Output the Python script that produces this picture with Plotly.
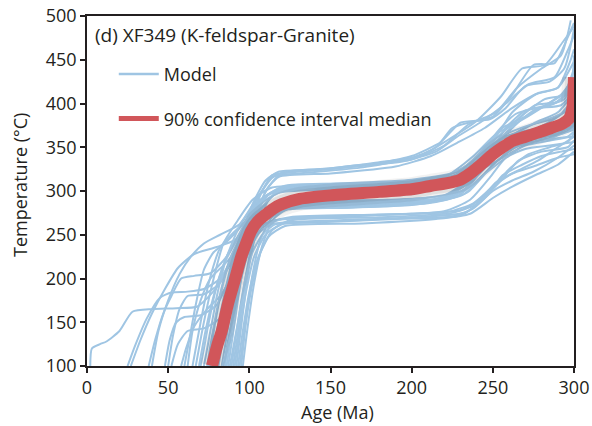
import plotly.graph_objects as go

# ---------------- data ----------------
x_ticks = [0, 50, 100, 150, 200, 250, 300]
y_ticks = [100, 150, 200, 250, 300, 350, 400, 450, 500]

median_age = [77, 80, 83, 87, 91, 95, 98, 101, 105, 110, 115, 120, 131, 150, 180, 200, 212, 222,
              230, 236, 242, 250, 256, 262, 270, 278, 286, 293, 297, 299, 300]
median_temp = [100, 122, 140, 172, 198, 225, 240, 254, 265, 273, 280, 285, 291, 295, 299, 302, 306, 309,
               313, 320, 329, 342, 350, 357, 362, 367, 372, 377, 383, 395, 430]

# upper plateau paths (age, temperature)
path_u1 = [(40,100),(44,140),(50,175),(57,205),(64,225),(72,240),(82,250),(94,262),(104,290),(114,315),(122,322),(150,326),(180,333),(200,338),(215,350),(225,372),(235,378),(250,385),(262,410),(275,444),(288,446),(296,475),(300,492)]
path_u2 = [(27,100),(33,130),(40,160),(48,188),(56,212),(66,228),(80,236),(92,245),(102,270),(112,305),(120,320),(150,325),(180,332),(200,340),(218,356),(230,378),(248,382),(258,395),(270,420),(285,425),(294,440),(300,485)]
path_u3 = [(80,100),(85,150),(90,200),(96,250),(102,285),(110,312),(118,322),(140,324),(170,330),(200,336),(220,352),(235,376),(252,390),(265,418),(280,440),(292,455),(298,495)]
path_u4 = [(84,100),(89,150),(94,200),(100,255),(106,292),(114,318),(125,321),(160,327),(195,334),(215,345),(228,362),(242,378),(258,400),(272,422),(288,430),(296,460),(300,478)]
path_u5 = [(70,100),(74,140),(79,185),(86,225),(95,255),(104,288),(114,316),(130,320),(170,327),(205,340),(222,358),(240,380),(255,408),(268,440),(282,444),(293,470),(300,488)]
path_u6 = [(88,100),(93,150),(98,205),(104,262),(110,300),(118,316),(150,320),(190,328),(212,340),(228,355),(245,372),(262,395),(278,412),(290,418),(298,450),(300,462)]

# middle plateau paths
path_m1 = [(2,100),(3,120),(8,125),(12,128),(20,140),(28,162),(40,165),(55,166),(68,168),(80,190),(92,230),(102,268),(112,296),(125,305),(160,308),(200,312),(222,318),(238,340),(252,365),(265,378),(280,395),(292,410),(300,430)]
path_m2 = [(25,100),(30,125),(37,155),(45,178),(52,184),(62,185),(72,188),(82,200),(92,232),(104,265),(115,278),(150,282),(190,286),(220,292),(235,312),(248,342),(262,358),(276,370),(290,385),(300,405)]
path_m3 = [(38,100),(42,130),(47,160),(52,180),(58,200),(66,203),(76,206),(86,225),(96,258),(106,288),(118,302),(160,304),(200,309),(225,316),(240,334),(255,360),(268,368),(280,372),(292,380),(300,395)]
path_m4 = [(48,100),(51,130),(55,150),(60,156),(70,158),(80,170),(90,210),(100,252),(110,274),(122,280),(170,282),(210,287),(232,300),(245,328),(258,350),(272,360),(286,368),(296,378),(300,383)]
path_m5 = [(50,100),(53,135),(57,165),(62,180),(72,182),(82,195),(92,238),(102,276),(112,296),(135,303),(180,306),(215,310),(236,324),(250,348),(262,372),(275,392),(288,400),(300,420)]
path_m6 = [(52,100),(56,125),(62,140),(72,143),(82,155),(90,198),(98,240),(108,268),(120,279),(160,281),(200,284),(228,294),(244,318),(258,338),(272,355),(288,362),(300,372)]
path_m7 = [(60,100),(63,130),(67,170),(72,210),(78,230),(86,242),(96,262),(106,288),(118,302),(150,306),(195,310),(225,316),(240,340),(252,362),(262,390),(276,410),(290,418),(300,448)]
path_m8 = [(65,100),(70,150),(75,195),(82,235),(90,252),(100,268),(112,280),(140,283),(190,286),(220,292),(234,308),(248,338),(262,364),(276,378),(290,390),(300,412)]
path_m9 = [(67,100),(72,150),(78,200),(84,240),(92,264),(102,290),(114,304),(150,307),(200,311),(226,318),(240,334),(254,358),(266,365),(280,370),(296,380),(300,388)]
path_m10 = [(69,100),(73,140),(78,180),(84,215),(92,243),(102,266),(114,279),(160,282),(205,287),(230,298),(245,326),(256,345),(270,358),(284,366),(298,372),(300,380)]
path_m11 = [(72,100),(76,140),(80,180),(86,224),(94,260),(104,286),(116,300),(170,304),(210,309),(232,322),(244,348),(256,372),(270,385),(284,400),(294,412),(300,440)]
path_m12 = [(74,100),(78,145),(83,190),(88,222),(96,252),(106,272),(118,282),(170,284),(212,288),(234,304),(246,332),(258,358),(272,374),(288,385),(300,395)]
path_m13 = [(76,100),(80,140),(85,185),(90,224),(97,258),(106,284),(118,298),(160,302),(200,307),(226,313),(240,326),(252,345),(266,358),(280,363),(296,368),(300,374)]
path_m14 = [(78,100),(82,150),(86,190),(91,226),(98,255),(108,276),(120,285),(175,287),(215,291),(236,310),(248,342),(258,372),(270,392),(284,398),(294,405),(300,425)]
path_m15 = [(79,100),(84,160),(89,205),(94,242),(100,270),(110,294),(122,306),(180,309),(218,315),(238,334),(252,360),(264,380),(276,398),(290,402),(298,418),(300,455)]
path_m16 = [(81,100),(86,155),(91,205),(96,238),(102,264),(112,281),(124,288),(185,290),(220,295),(240,320),(252,350),(262,362),(276,370),(290,378),(300,392)]
path_m17 = [(83,100),(87,145),(92,195),(97,236),(104,272),(114,294),(128,304),(190,306),(222,312),(238,326),(250,346),(262,355),(278,360),(292,365),(300,370)]
path_m18 = [(85,100),(89,150),(94,205),(99,240),(106,266),(116,280),(130,284),(190,288),(224,294),(240,330),(252,366),(264,388),(278,395),(292,398),(300,415)]
path_m19 = [(87,100),(91,150),(95,200),(100,242),(107,278),(117,298),(135,305),(190,308),(225,313),(242,324),(256,338),(270,352),(286,358),(296,362),(300,368)]
path_m20 = [(90,100),(94,150),(98,200),(103,246),(110,274),(120,285),(140,287),(195,290),(226,298),(240,326),(255,360),(268,386),(282,405),(294,410),(300,430)]
path_m21 = [(92,100),(96,160),(100,215),(105,258),(112,290),(122,305),(150,308),(200,313),(228,322),(244,345),(258,365),(272,375),(288,383),(300,398)]
path_m22 = [(94,100),(98,155),(102,205),(107,245),(114,270),(124,279),(160,281),(210,286),(232,296),(246,322),(260,346),(276,360),(290,366),(300,376)]
path_m23 = [(96,100),(99,145),(103,195),(108,238),(115,268),(126,282),(165,285),(210,289),(234,298),(250,330),(264,350),(280,358),(300,362)]

# lower plateau paths
path_l1 = [(62,100),(65,140),(70,175),(76,200),(84,215),(94,235),(104,255),(114,266),(150,270),(200,274),(230,278),(242,290),(252,310),(264,322),(278,335),(290,350),(300,362)]
path_l2 = [(86,100),(90,150),(95,200),(100,232),(106,252),(114,262),(130,265),(180,268),(225,271),(238,280),(250,300),(262,312),(275,322),(290,338),(300,352)]
path_l3 = [(89,100),(93,150),(97,195),(102,230),(108,250),(116,262),(140,264),(190,268),(230,272),(245,292),(256,318),(268,330),(280,340),(292,345),(300,348)]
path_l4 = [(91,100),(94,140),(98,185),(103,225),(110,250),(120,262),(160,266),(200,270),(234,276),(248,300),(260,325),(272,342),(285,350),(296,356),(300,366)]
path_l5 = [(93,100),(96,140),(100,185),(105,222),(112,248),(122,260),(170,263),(215,268),(236,274),(250,292),(262,305),(276,318),(290,330),(300,345)]
path_l6 = [(95,100),(98,150),(102,195),(107,230),(114,255),(124,266),(180,270),(225,275),(240,285),(254,310),(266,335),(280,345),(296,350),(300,358)]
path_l7 = [(75,100),(79,150),(84,195),(90,230),(98,250),(108,262),(125,270),(175,273),(222,276),(238,286),(250,305),(262,320),(275,328),(290,338),(300,342)]
path_l8 = [(58,100),(61,120),(66,145),(74,165),(82,180),(90,205),(98,235),(108,258),(120,268),(170,272),(220,277),(236,290),(248,315),(258,338),(270,348),(285,352),(300,356)]

model_paths = [path_u1, path_u2, path_u3, path_u4, path_u5, path_u6,
               path_m1, path_m2, path_m3, path_m4, path_m5, path_m6, path_m7, path_m8,
               path_m9, path_m10, path_m11, path_m12, path_m13, path_m14, path_m15,
               path_m16, path_m17, path_m18, path_m19, path_m20, path_m21, path_m22, path_m23,
               path_l1, path_l2, path_l3, path_l4, path_l5, path_l6, path_l7, path_l8]

title_text = "(d) XF349 (K-feldspar-Granite)"
model_label = "Model"
median_label = "90% confidence interval median"
x_title = "Age (Ma)"
y_title = "Temperature (°C)"

# ---------------- style ----------------
BLUE = "#9fc5e3"
RED = "#d1565a"
INK = "#231f20"
FONT = "Open Sans"
FS = 18

fig = go.Figure()

for p in model_paths:
    fig.add_trace(go.Scatter(
        x=[a for a, _ in p], y=[t for _, t in p], mode="lines",
        line=dict(color=BLUE, width=2, shape="spline", smoothing=0.6),
        showlegend=False, hoverinfo="skip"))

# soft shadow under median
for w, a in [(24, 0.05), (18, 0.07)]:
    fig.add_trace(go.Scatter(
        x=median_age, y=median_temp, mode="lines",
        line=dict(color=f"rgba(0,0,0,{a})", width=w, shape="spline", smoothing=0.6),
        showlegend=False, hoverinfo="skip"))

fig.add_trace(go.Scatter(
    x=median_age, y=median_temp, mode="lines",
    line=dict(color=RED, width=12, shape="spline", smoothing=0.6),
    showlegend=False, hoverinfo="skip"))

# legend entries
fig.add_trace(go.Scatter(x=[None], y=[None], mode="lines",
                         line=dict(color=BLUE, width=2.5),
                         name=model_label, legendgroup="model", showlegend=True))
fig.add_trace(go.Scatter(x=[None], y=[None], mode="lines",
                         line=dict(color=RED, width=5),
                         name=median_label, legendgroup="median", showlegend=True))

axis_common = dict(showline=True, linecolor=INK, linewidth=1.5, mirror=True,
                   ticks="outside", ticklen=5, tickwidth=1.5, tickcolor=INK,
                   showgrid=False, zeroline=False, automargin=False,
                   tickfont=dict(family=FONT, size=FS, color=INK))

fig.update_layout(
    width=592, height=426,
    margin=dict(l=87, r=18, t=16, b=60),
    paper_bgcolor="white", plot_bgcolor="white",
    font=dict(family=FONT, size=FS, color=INK),
    xaxis=dict(range=[0, 300], tickvals=x_ticks, **axis_common),
    yaxis=dict(range=[100, 500], tickvals=y_ticks, **axis_common),
    legend=dict(x=0.055, y=0.886, xanchor="left", yanchor="top",
                bgcolor="rgba(0,0,0,0)", tracegroupgap=18,
                font=dict(family=FONT, size=FS, color=INK), itemwidth=40),
    annotations=[
        dict(text=title_text, xref="paper", yref="paper", x=0.012, y=0.946,
             xanchor="left", yanchor="middle", showarrow=False,
             font=dict(family=FONT, size=19, color=INK)),
        dict(text=x_title, xref="paper", yref="paper", x=0.515, y=-0.131,
             xanchor="center", yanchor="middle", showarrow=False,
             font=dict(family=FONT, size=FS, color=INK)),
        dict(text=y_title, xref="paper", yref="paper", x=-0.1376, y=0.517,
             xanchor="center", yanchor="middle", showarrow=False, textangle=-90,
             font=dict(family=FONT, size=FS, color=INK)),
    ],
    showlegend=True,
)

fig.write_html("out.html", config={"displayModeBar": False},
               post_script="document.body.style.margin='0';document.body.style.padding='0';")
